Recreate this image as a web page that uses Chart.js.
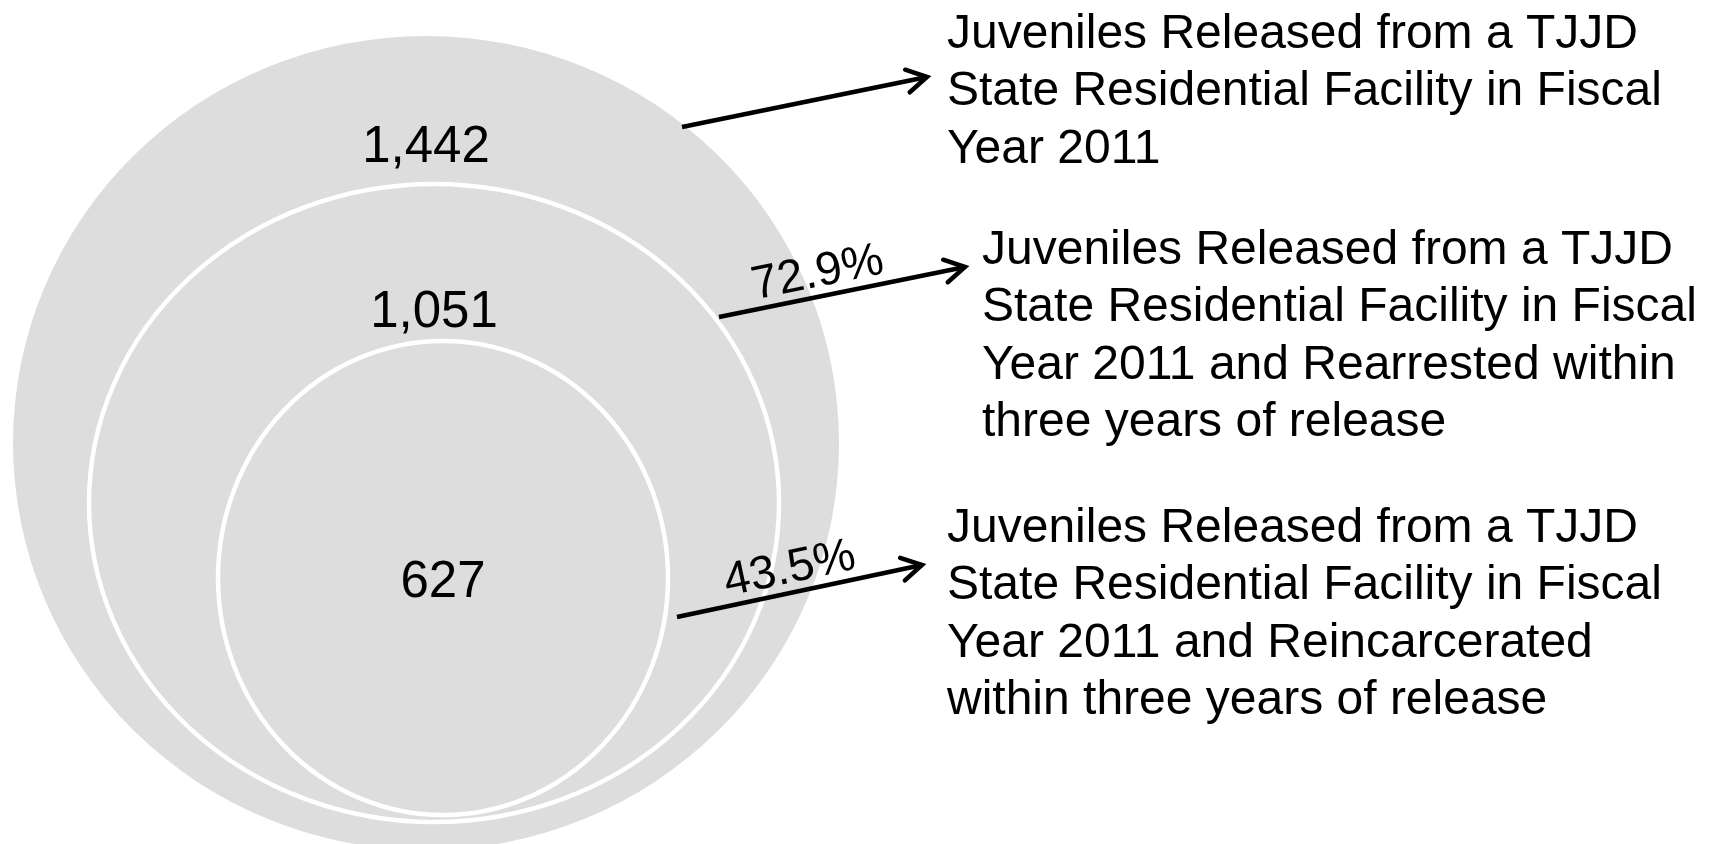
<!DOCTYPE html>
<html>
<head>
<meta charset="utf-8">
<title>TJJD releases, rearrests and reincarcerations</title>
<script src="https://cdn.jsdelivr.net/npm/chart.js@4.4.1/dist/chart.umd.min.js"></script>
<style>
  html, body { margin: 0; padding: 0; background: #fff; }
  #wrap { width: 1711px; height: 844px; }
</style>
</head>
<body>
<div id="wrap"><canvas id="nested" width="1711" height="844"></canvas></div>
<script>
// values
const groups = ["Released FY2011", "Rearrested", "Reincarcerated"];
const counts = [1442, 1051, 627];
const rates = [null, 72.9, 43.5];
const captions = [
  ["Juveniles Released from a TJJD", "State Residential Facility in Fiscal", "Year 2011"],
  ["Juveniles Released from a TJJD", "State Residential Facility in Fiscal", "Year 2011 and Rearrested within", "three years of release"],
  ["Juveniles Released from a TJJD", "State Residential Facility in Fiscal", "Year 2011 and Reincarcerated", "within three years of release"]
];

// layout (hidden axes run in canvas pixels)
const shapes = [
  { cx: 426, cy: 443, rx: 413, ry: 407, numY: 144, stroke: false },
  { cx: 434, cy: 503, rx: 345, ry: 319, numY: 309, stroke: true },
  { cx: 443, cy: 578, rx: 225, ry: 237, numY: 579, stroke: true }
];
const arrows = [
  { x1: 682, y1: 127, x2: 927, y2: 77, tx: 947, ty: 48, pctAt: 0.4 },
  { x1: 719, y1: 317, x2: 965, y2: 267, tx: 982, ty: 264, pctAt: 0.42 },
  { x1: 677, y1: 617, x2: 922, y2: 565, tx: 947, ty: 542, pctAt: 0.48 }
];

const FONT = '"Liberation Sans", Arial, Helvetica, sans-serif';
const GRAY = "#dddddd";

const nestedPlugin = {
  id: "nested",
  beforeDatasetsDraw(chart) {
    const ctx = chart.ctx;
    const xs = chart.scales.x;
    const ys = chart.scales.y;
    ctx.save();

    // ellipses, centred on each dataset's point
    shapes.forEach((s, i) => {
      const pt = chart.getDatasetMeta(i).data[0];
      const rx = Math.abs(xs.getPixelForValue(s.cx + s.rx) - pt.x);
      const ry = Math.abs(ys.getPixelForValue(s.cy + s.ry) - pt.y);
      ctx.beginPath();
      ctx.ellipse(pt.x, pt.y, rx, ry, 0, 0, Math.PI * 2);
      ctx.fillStyle = GRAY;
      ctx.fill();
      if (s.stroke) {
        ctx.lineWidth = 4.5;
        ctx.strokeStyle = "#ffffff";
        ctx.stroke();
      }
    });

    // counts
    ctx.fillStyle = "#000";
    ctx.font = "51px " + FONT;
    ctx.textAlign = "center";
    ctx.textBaseline = "alphabetic";
    shapes.forEach((s, i) => {
      const pt = chart.getDatasetMeta(i).data[0];
      ctx.fillText(counts[i].toLocaleString("en-US"), pt.x, ys.getPixelForValue(s.numY) + 18);
    });

    // arrows, rates and captions
    arrows.forEach((a, i) => {
      const x1 = xs.getPixelForValue(a.x1), y1 = ys.getPixelForValue(a.y1);
      const x2 = xs.getPixelForValue(a.x2), y2 = ys.getPixelForValue(a.y2);
      const ang = Math.atan2(y2 - y1, x2 - x1);

      ctx.strokeStyle = "#000";
      ctx.lineWidth = 4.5;
      ctx.lineCap = "butt";
      ctx.beginPath();
      ctx.moveTo(x1, y1);
      ctx.lineTo(x2, y2);
      ctx.stroke();

      const head = 23, spread = Math.PI / 6;
      ctx.lineJoin = "miter";
      ctx.lineCap = "round";
      ctx.beginPath();
      ctx.moveTo(x2 - head * Math.cos(ang - spread), y2 - head * Math.sin(ang - spread));
      ctx.lineTo(x2, y2);
      ctx.lineTo(x2 - head * Math.cos(ang + spread), y2 - head * Math.sin(ang + spread));
      ctx.stroke();

      if (rates[i] !== null) {
        const ux = Math.cos(ang), uy = Math.sin(ang);
        const px = x1 + (x2 - x1) * a.pctAt + uy * 10;
        const py = y1 + (y2 - y1) * a.pctAt - ux * 10;
        ctx.save();
        ctx.translate(px, py);
        ctx.rotate(ang);
        ctx.font = "47px " + FONT;
        ctx.textAlign = "center";
        ctx.textBaseline = "alphabetic";
        ctx.fillStyle = "#000";
        ctx.fillText(rates[i].toFixed(1) + "%", 0, 0);
        ctx.restore();
      }

      ctx.font = "48px " + FONT;
      ctx.textAlign = "left";
      ctx.textBaseline = "alphabetic";
      ctx.fillStyle = "#000";
      captions[i].forEach((line, j) => {
        ctx.fillText(line, xs.getPixelForValue(a.tx), ys.getPixelForValue(a.ty + j * 57.4));
      });
    });

    ctx.restore();
  }
};

const ctx = document.getElementById("nested").getContext("2d");
const nestedChart = new Chart(ctx, {
  type: "scatter",
  data: {
    datasets: groups.map((g, i) => ({
      label: g,
      data: [{ x: shapes[i].cx, y: shapes[i].cy }],
      pointRadius: 0,
      pointHoverRadius: 0
    }))
  },
  options: {
    responsive: false,
    animation: false,
    events: [],
    layout: { padding: 0 },
    scales: {
      x: { type: "linear", min: 0, max: 1711, display: false },
      y: { type: "linear", min: 0, max: 844, reverse: true, display: false }
    },
    plugins: {
      legend: { display: false },
      tooltip: { enabled: false }
    }
  },
  plugins: [nestedPlugin]
});
</script>
</body>
</html>
